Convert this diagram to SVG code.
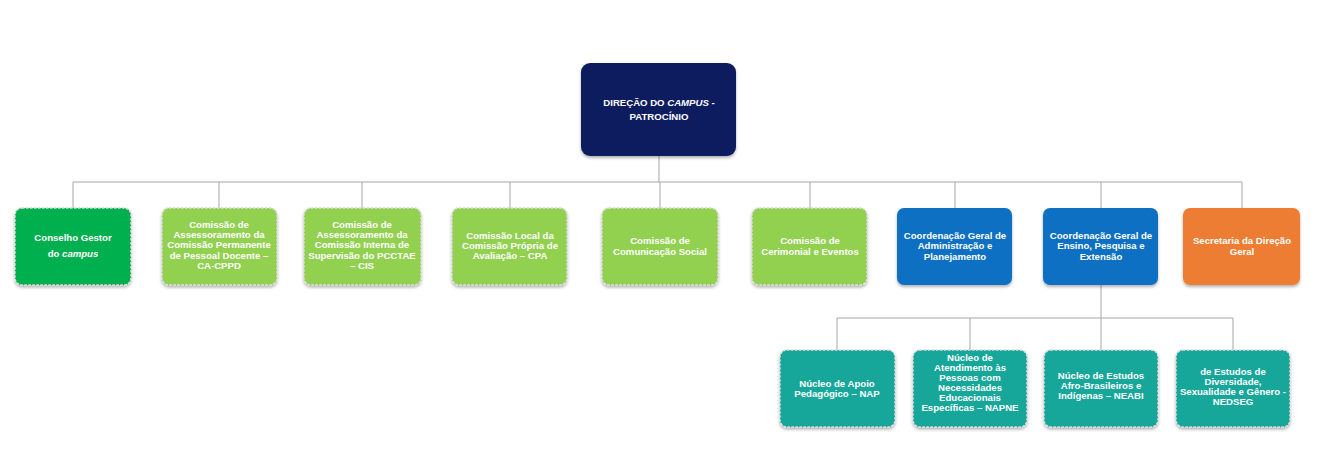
<svg xmlns="http://www.w3.org/2000/svg" width="1332" height="473" viewBox="0 0 1332 473">
<style>
.n{stroke:#dcdcdc;stroke-width:1.5;stroke-dasharray:2.5 1.5;filter:url(#sh)}
.s{stroke:none;filter:url(#sh)}
.t{font-family:"Liberation Sans",Arial,sans-serif;font-weight:bold;font-size:9.6px;fill:#ffffff;text-anchor:middle}
.c{stroke:#a6a6a6;stroke-width:1;fill:none}
</style>
<defs>
<filter id="sh" x="-10%" y="-10%" width="120%" height="130%">
<feDropShadow dx="0" dy="2" stdDeviation="1.5" flood-color="#000" flood-opacity="0.3"/>
</filter>
</defs>
<rect width="1332" height="473" fill="#ffffff"/>
<g id="connectors">
<path class="c" d="M659 156V182M73 182H1242M73 182V208M219 182V208M362 182V208M510 182V208M660 182V208M810 182V208M955 182V208M1101 182V208M1242 182V208"/>
<path class="c" d="M1101 285V318M837 318H1233M837 318V350M970 318V350M1101 318V350M1233 318V350"/>
</g>
<g id="direcao">
<rect class="s" x="581" y="63" width="155" height="93" rx="9" fill="#0c1f5e"/>
<text class="t" x="659" y="105.5">DIREÇÃO DO <tspan font-style="italic">CAMPUS</tspan> -</text>
<text class="t" x="659" y="119.5">PATROCÍNIO</text>
</g>
<g id="conselho">
<rect class="n" x="15" y="208" width="116" height="77" rx="7" fill="#00b050"/>
<text class="t" x="73" y="240.5">Conselho Gestor</text>
<text class="t" x="73" y="256.5">do <tspan font-style="italic">campus</tspan></text>
</g>
<g id="cappd">
<rect class="n" x="162" y="208" width="115" height="77" rx="7" fill="#92d050"/>
<text class="t" x="219" y="227.5">Comissão de</text>
<text class="t" x="219" y="237.5">Assessoramento da</text>
<text class="t" x="219" y="248">Comissão Permanente</text>
<text class="t" x="219" y="258.5">de Pessoal Docente –</text>
<text class="t" x="219" y="268.5">CA-CPPD</text>
</g>
<g id="cis">
<rect class="n" x="304" y="208" width="117" height="77" rx="7" fill="#92d050"/>
<text class="t" x="362" y="227.5">Comissão de</text>
<text class="t" x="362" y="237.5">Assessoramento da</text>
<text class="t" x="362" y="248">Comissão Interna de</text>
<text class="t" x="362" y="258.5">Supervisão do PCCTAE</text>
<text class="t" x="362" y="268.5">– CIS</text>
</g>
<g id="cpa">
<rect class="n" x="452" y="208" width="115" height="77" rx="7" fill="#92d050"/>
<text class="t" x="510" y="238.5">Comissão Local da</text>
<text class="t" x="510" y="248.5">Comissão Própria de</text>
<text class="t" x="510" y="258.5">Avaliação – CPA</text>
</g>
<g id="comunicacao">
<rect class="n" x="602" y="208" width="116" height="77" rx="7" fill="#92d050"/>
<text class="t" x="660" y="243.5">Comissão de</text>
<text class="t" x="660" y="254.5">Comunicação Social</text>
</g>
<g id="cerimonial">
<rect class="n" x="752" y="208" width="115" height="77" rx="7" fill="#92d050"/>
<text class="t" x="810" y="243.5">Comissão de</text>
<text class="t" x="810" y="254.5">Cerimonial e Eventos</text>
</g>
<g id="cgap">
<rect class="s" x="897" y="208" width="115" height="77" rx="7" fill="#0a6fc2"/>
<text class="t" x="955" y="238.5">Coordenação Geral de</text>
<text class="t" x="955" y="249">Administração e</text>
<text class="t" x="955" y="259.5">Planejamento</text>
</g>
<g id="cgepe">
<rect class="s" x="1043" y="208" width="115" height="77" rx="7" fill="#0a6fc2"/>
<text class="t" x="1101" y="238.5">Coordenação Geral de</text>
<text class="t" x="1101" y="249">Ensino, Pesquisa e</text>
<text class="t" x="1101" y="259.5">Extensão</text>
</g>
<g id="secretaria">
<rect class="s" x="1183" y="208" width="117" height="77" rx="7" fill="#ed7d31"/>
<text class="t" x="1242" y="243.5">Secretaria da Direção</text>
<text class="t" x="1242" y="254.5">Geral</text>
</g>
<g id="nap">
<rect class="n" x="780" y="350" width="115" height="77" rx="7" fill="#19a69a"/>
<text class="t" x="837" y="386.5">Núcleo de Apoio</text>
<text class="t" x="837" y="396.5">Pedagógico – NAP</text>
</g>
<g id="napne">
<rect class="n" x="913" y="350" width="114" height="77" rx="7" fill="#19a69a"/>
<text class="t" x="970" y="360.5">Núcleo de</text>
<text class="t" x="970" y="370.5">Atendimento às</text>
<text class="t" x="970" y="380.5">Pessoas com</text>
<text class="t" x="970" y="390.5">Necessidades</text>
<text class="t" x="970" y="400.5">Educacionais</text>
<text class="t" x="970" y="410.5">Específicas – NAPNE</text>
</g>
<g id="neabi">
<rect class="n" x="1044" y="350" width="114" height="77" rx="7" fill="#19a69a"/>
<text class="t" x="1101" y="378.5">Núcleo de Estudos</text>
<text class="t" x="1101" y="388.5">Afro-Brasileiros e</text>
<text class="t" x="1101" y="398.5">Indígenas – NEABI</text>
</g>
<g id="nedseg">
<rect class="n" x="1176" y="350" width="114" height="77" rx="7" fill="#19a69a"/>
<text class="t" x="1233" y="374.5">de Estudos de</text>
<text class="t" x="1233" y="384.5">Diversidade,</text>
<text class="t" x="1233" y="394.5">Sexualidade e Gênero -</text>
<text class="t" x="1233" y="404.5">NEDSEG</text>
</g>
</svg>
